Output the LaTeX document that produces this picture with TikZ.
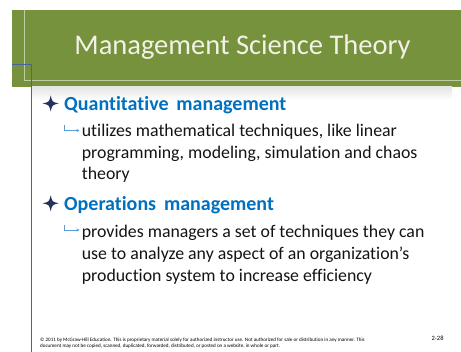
\documentclass[tikz,border=0pt]{standalone}
\usepackage{fontspec}
\setmainfont{Carlito}[Ligatures={NoCommon}]
\definecolor{hdrgreen}{RGB}{118,146,60}
\definecolor{hdrline}{RGB}{190,204,160}
\definecolor{titlecol}{RGB}{242,242,230}
\definecolor{framblue}{RGB}{70,100,160}
\definecolor{headblue}{RGB}{0,112,192}
\definecolor{starcol}{RGB}{35,50,95}
\definecolor{arrowcol}{RGB}{91,155,213}
\definecolor{bodycol}{RGB}{20,20,20}
\tikzset{
  titletext/.style={text=titlecol,font=\fontsize{28.5}{32}\selectfont,inner sep=0pt,anchor=base},
  headtext/.style={text=headblue,font=\fontsize{20}{24}\selectfont\bfseries,inner sep=0pt,anchor=base west},
  bodytext/.style={text=bodycol,font=\fontsize{17.8}{22}\selectfont,inner sep=0pt,anchor=base west},
  foottext/.style={text=black,font=\fontsize{5.1}{6}\selectfont,inner sep=0pt,anchor=base west},
  subarrow/.style={draw=arrowcol,line width=0.7pt,-{Stealth[length=3pt,width=3pt]}},
}
\usetikzlibrary{arrows.meta}
\begin{document}
\begin{tikzpicture}[x=1pt,y=-1pt]
\useasboundingbox (0,0) rectangle (461,352);
\fill[white] (0,0) rectangle (461,352);
% header band
\fill[hdrgreen] (12,10) rectangle (461,87);
\draw[hdrline,line width=0.8pt] (24,10) -- (24,80) -- (461,80);
\shade[top color=black!10,bottom color=white] (31,87) rectangle (452,100);
% blue frame line
\draw[framblue,line width=0.8pt] (12,64) -- (31,64) -- (31,352);
\node[titletext] (title) at (242.5,55) {Management Science Theory};
% stars
\foreach \cx/\cy/\nm in {50.7/103.5/s1, 50.7/203.3/s2}{
  \fill[starcol] (\cx-8,\cy) .. controls (\cx-1.5,\cy-1.5) .. (\cx,\cy-8)
     .. controls (\cx+1.5,\cy-1.5) .. (\cx+8,\cy)
     .. controls (\cx+1.5,\cy+1.5) .. (\cx,\cy+8)
     .. controls (\cx-1.5,\cy+1.5) .. cycle;
}
% section 1
\node[headtext] (h1) at (64,110.7) {Quantitative\, management};
\draw[subarrow] (64.5,125.5) -- (64.5,130.5) -- (79.5,130.5);
\node[bodytext] (b11) at (81.7,137) {utilizes mathematical techniques, like linear};
\node[bodytext] (b12) at (81.7,158.5) {programming, modeling, simulation and chaos};
\node[bodytext] (b13) at (81.7,180) {theory};
% section 2
\node[headtext] (h2) at (64,210.5) {Operations\, management};
\draw[subarrow] (64.5,225) -- (64.5,230) -- (79.5,230);
\node[bodytext] (b21) at (81.7,238) {provides managers a set of techniques they can};
\node[bodytext] (b22) at (81.7,259.7) {use to analyze any aspect of an organization’s};
\node[bodytext] (b23) at (81.7,281.5) {production system to increase efficiency};
% footer
\node[foottext] (f1) at (40,341.5) {© 2011 by McGraw-Hill Education. This is proprietary material solely for authorized instructor use. Not authorized for sale or distribution in any manner. This};
\node[foottext] (f2) at (40,347.5) {document may not be copied, scanned, duplicated, forwarded, distributed, or posted on a website, in whole or part.};
\node[text=black,font=\fontsize{6.5}{7}\selectfont,inner sep=0pt,anchor=base west] (pg) at (431.5,340.5) {2-28};
\end{tikzpicture}
\end{document}
